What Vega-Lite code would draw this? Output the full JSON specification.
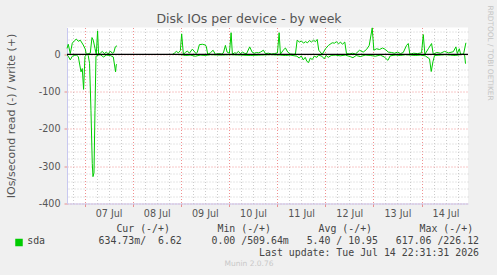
{
"$schema": "https://vega.github.io/schema/vega-lite/v6.json",
"autosize": "none",
"width": 401,
"height": 176,
"padding": {"left": 67, "top": 27.5, "right": 29, "bottom": 71.5},
"background": "#f0f0f0",
"config": {"view": {"stroke": null, "fill": "#ffffff"}, "axis": {"labelFont": "DejaVu Sans", "titleFont": "DejaVu Sans", "labelColor": "#555555", "titleColor": "#555555", "titleFontWeight": "normal"}},
"datasets": {"io": [
{"t":"2026-07-06T15:15","v":16,"d":"w","s":"w1"},
{"t":"2026-07-06T15:52","v":27,"d":"w","s":"w1"},
{"t":"2026-07-06T16:52","v":2,"d":"w","s":"w1"},
{"t":"2026-07-06T17:52","v":30,"d":"w","s":"w1"},
{"t":"2026-07-06T18:52","v":36,"d":"w","s":"w1"},
{"t":"2026-07-06T19:52","v":41,"d":"w","s":"w1"},
{"t":"2026-07-06T20:52","v":35,"d":"w","s":"w1"},
{"t":"2026-07-06T21:51","v":38,"d":"w","s":"w1"},
{"t":"2026-07-06T23:21","v":25,"d":"w","s":"w1"},
{"t":"2026-07-07T00:21","v":14,"d":"w","s":"w1"},
{"t":"2026-07-07T00:51","v":0,"d":"w","s":"w1"},
{"t":"2026-07-07T01:51","v":2,"d":"w","s":"w1"},
{"t":"2026-07-07T02:50","v":3,"d":"w","s":"w1"},
{"t":"2026-07-07T03:41","v":45,"d":"w","s":"w1"},
{"t":"2026-07-07T04:20","v":38,"d":"w","s":"w1"},
{"t":"2026-07-07T05:11","v":16,"d":"w","s":"w1"},
{"t":"2026-07-07T05:50","v":0,"d":"w","s":"w1"},
{"t":"2026-07-07T06:29","v":63,"d":"w","s":"w1"},
{"t":"2026-07-07T06:59","v":0,"d":"w","s":"w1"},
{"t":"2026-07-07T07:50","v":3,"d":"w","s":"w1"},
{"t":"2026-07-07T08:50","v":8,"d":"w","s":"w1"},
{"t":"2026-07-07T09:50","v":2,"d":"w","s":"w1"},
{"t":"2026-07-07T10:50","v":6,"d":"w","s":"w1"},
{"t":"2026-07-07T11:50","v":1,"d":"w","s":"w1"},
{"t":"2026-07-07T12:49","v":9,"d":"w","s":"w1"},
{"t":"2026-07-07T13:49","v":3,"d":"w","s":"w1"},
{"t":"2026-07-07T14:34","v":5,"d":"w","s":"w1"},
{"t":"2026-07-07T15:19","v":20,"d":"w","s":"w1"},
{"t":"2026-07-07T16:10","v":23,"d":"w","s":"w1"},
{"t":"2026-07-08T19:55","v":0,"d":"w","s":"w2"},
{"t":"2026-07-08T20:45","v":3,"d":"w","s":"w2"},
{"t":"2026-07-08T21:45","v":8,"d":"w","s":"w2"},
{"t":"2026-07-08T22:45","v":4,"d":"w","s":"w2"},
{"t":"2026-07-08T23:45","v":10,"d":"w","s":"w2"},
{"t":"2026-07-09T00:24","v":55,"d":"w","s":"w2"},
{"t":"2026-07-09T01:15","v":0,"d":"w","s":"w2"},
{"t":"2026-07-09T02:15","v":5,"d":"w","s":"w2"},
{"t":"2026-07-09T03:15","v":9,"d":"w","s":"w2"},
{"t":"2026-07-09T04:15","v":3,"d":"w","s":"w2"},
{"t":"2026-07-09T05:44","v":14,"d":"w","s":"w2"},
{"t":"2026-07-09T07:35","v":2,"d":"w","s":"w2"},
{"t":"2026-07-09T08:14","v":6,"d":"w","s":"w2"},
{"t":"2026-07-09T09:14","v":26,"d":"w","s":"w2"},
{"t":"2026-07-09T10:44","v":27,"d":"w","s":"w2"},
{"t":"2026-07-09T12:14","v":25,"d":"w","s":"w2"},
{"t":"2026-07-09T12:44","v":20,"d":"w","s":"w2"},
{"t":"2026-07-09T13:23","v":0,"d":"w","s":"w2"},
{"t":"2026-07-09T14:43","v":4,"d":"w","s":"w2"},
{"t":"2026-07-09T16:04","v":11,"d":"w","s":"w2"},
{"t":"2026-07-09T17:13","v":0,"d":"w","s":"w2"},
{"t":"2026-07-09T18:43","v":2,"d":"w","s":"w2"},
{"t":"2026-07-09T20:13","v":1,"d":"w","s":"w2"},
{"t":"2026-07-09T21:13","v":4,"d":"w","s":"w2"},
{"t":"2026-07-09T22:13","v":24,"d":"w","s":"w2"},
{"t":"2026-07-09T23:04","v":6,"d":"w","s":"w2"},
{"t":"2026-07-10T00:13","v":3,"d":"w","s":"w2"},
{"t":"2026-07-10T01:03","v":58,"d":"w","s":"w2"},
{"t":"2026-07-10T01:42","v":0,"d":"w","s":"w2"},
{"t":"2026-07-10T02:42","v":4,"d":"w","s":"w2"},
{"t":"2026-07-10T03:42","v":3,"d":"w","s":"w2"},
{"t":"2026-07-10T04:42","v":8,"d":"w","s":"w2"},
{"t":"2026-07-10T05:42","v":2,"d":"w","s":"w2"},
{"t":"2026-07-10T06:42","v":6,"d":"w","s":"w2"},
{"t":"2026-07-10T07:41","v":3,"d":"w","s":"w2"},
{"t":"2026-07-10T08:41","v":1,"d":"w","s":"w2"},
{"t":"2026-07-10T10:20","v":20,"d":"w","s":"w2"},
{"t":"2026-07-10T11:32","v":6,"d":"w","s":"w2"},
{"t":"2026-07-10T12:41","v":3,"d":"w","s":"w2"},
{"t":"2026-07-10T13:41","v":5,"d":"w","s":"w2"},
{"t":"2026-07-10T14:41","v":4,"d":"w","s":"w2"},
{"t":"2026-07-10T15:40","v":6,"d":"w","s":"w2"},
{"t":"2026-07-10T17:10","v":11,"d":"w","s":"w2"},
{"t":"2026-07-10T18:10","v":2,"d":"w","s":"w2"},
{"t":"2026-07-10T19:40","v":3,"d":"w","s":"w2"},
{"t":"2026-07-10T21:10","v":1,"d":"w","s":"w2"},
{"t":"2026-07-10T22:40","v":2,"d":"w","s":"w2"},
{"t":"2026-07-11T00:10","v":4,"d":"w","s":"w2"},
{"t":"2026-07-11T01:00","v":58,"d":"w","s":"w2"},
{"t":"2026-07-11T01:39","v":0,"d":"w","s":"w2"},
{"t":"2026-07-11T03:00","v":11,"d":"w","s":"w2"},
{"t":"2026-07-11T04:09","v":17,"d":"w","s":"w2"},
{"t":"2026-07-11T05:18","v":6,"d":"w","s":"w2"},
{"t":"2026-07-11T06:38","v":1,"d":"w","s":"w2"},
{"t":"2026-07-11T08:08","v":0,"d":"w","s":"w2"},
{"t":"2026-07-11T09:08","v":1,"d":"w","s":"w2"},
{"t":"2026-07-11T09:59","v":38,"d":"w","s":"w2"},
{"t":"2026-07-11T11:08","v":33,"d":"w","s":"w2"},
{"t":"2026-07-11T12:08","v":36,"d":"w","s":"w2"},
{"t":"2026-07-11T13:08","v":30,"d":"w","s":"w2"},
{"t":"2026-07-11T14:08","v":34,"d":"w","s":"w2"},
{"t":"2026-07-11T15:08","v":31,"d":"w","s":"w2"},
{"t":"2026-07-11T16:08","v":37,"d":"w","s":"w2"},
{"t":"2026-07-11T17:07","v":33,"d":"w","s":"w2"},
{"t":"2026-07-11T18:07","v":38,"d":"w","s":"w2"},
{"t":"2026-07-11T19:07","v":34,"d":"w","s":"w2"},
{"t":"2026-07-11T19:58","v":40,"d":"w","s":"w2"},
{"t":"2026-07-11T20:46","v":11,"d":"w","s":"w2"},
{"t":"2026-07-11T22:28","v":0,"d":"w","s":"w2"},
{"t":"2026-07-12T00:07","v":15,"d":"w","s":"w2"},
{"t":"2026-07-12T01:36","v":24,"d":"w","s":"w2"},
{"t":"2026-07-12T03:27","v":31,"d":"w","s":"w2"},
{"t":"2026-07-12T04:36","v":30,"d":"w","s":"w2"},
{"t":"2026-07-12T05:36","v":34,"d":"w","s":"w2"},
{"t":"2026-07-12T06:36","v":28,"d":"w","s":"w2"},
{"t":"2026-07-12T07:35","v":33,"d":"w","s":"w2"},
{"t":"2026-07-12T08:35","v":27,"d":"w","s":"w2"},
{"t":"2026-07-12T09:44","v":33,"d":"w","s":"w2"},
{"t":"2026-07-12T10:35","v":2,"d":"w","s":"w2"},
{"t":"2026-07-12T12:05","v":1,"d":"w","s":"w2"},
{"t":"2026-07-12T13:35","v":3,"d":"w","s":"w2"},
{"t":"2026-07-12T15:05","v":1,"d":"w","s":"w2"},
{"t":"2026-07-12T17:05","v":11,"d":"w","s":"w2"},
{"t":"2026-07-12T18:55","v":6,"d":"w","s":"w2"},
{"t":"2026-07-12T20:34","v":13,"d":"w","s":"w2"},
{"t":"2026-07-12T21:55","v":24,"d":"w","s":"w2"},
{"t":"2026-07-12T23:25","v":71,"d":"w","s":"w2"},
{"t":"2026-07-13T00:13","v":11,"d":"w","s":"w2"},
{"t":"2026-07-13T01:34","v":15,"d":"w","s":"w2"},
{"t":"2026-07-13T03:04","v":13,"d":"w","s":"w2"},
{"t":"2026-07-13T04:33","v":17,"d":"w","s":"w2"},
{"t":"2026-07-13T06:03","v":13,"d":"w","s":"w2"},
{"t":"2026-07-13T07:24","v":6,"d":"w","s":"w2"},
{"t":"2026-07-13T09:02","v":5,"d":"w","s":"w2"},
{"t":"2026-07-13T10:32","v":3,"d":"w","s":"w2"},
{"t":"2026-07-13T12:02","v":6,"d":"w","s":"w2"},
{"t":"2026-07-13T13:32","v":2,"d":"w","s":"w2"},
{"t":"2026-07-13T14:53","v":5,"d":"w","s":"w2"},
{"t":"2026-07-13T16:32","v":24,"d":"w","s":"w2"},
{"t":"2026-07-13T17:23","v":29,"d":"w","s":"w2"},
{"t":"2026-07-13T18:11","v":0,"d":"w","s":"w2"},
{"t":"2026-07-13T20:01","v":3,"d":"w","s":"w2"},
{"t":"2026-07-13T22:01","v":2,"d":"w","s":"w2"},
{"t":"2026-07-14T00:01","v":4,"d":"w","s":"w2"},
{"t":"2026-07-14T00:52","v":53,"d":"w","s":"w2"},
{"t":"2026-07-14T01:40","v":0,"d":"w","s":"w2"},
{"t":"2026-07-14T03:22","v":15,"d":"w","s":"w2"},
{"t":"2026-07-14T05:00","v":29,"d":"w","s":"w2"},
{"t":"2026-07-14T05:51","v":0,"d":"w","s":"w2"},
{"t":"2026-07-14T07:30","v":5,"d":"w","s":"w2"},
{"t":"2026-07-14T09:30","v":3,"d":"w","s":"w2"},
{"t":"2026-07-14T11:29","v":8,"d":"w","s":"w2"},
{"t":"2026-07-14T13:29","v":4,"d":"w","s":"w2"},
{"t":"2026-07-14T15:50","v":7,"d":"w","s":"w2"},
{"t":"2026-07-14T17:08","v":20,"d":"w","s":"w2"},
{"t":"2026-07-14T17:50","v":2,"d":"w","s":"w2"},
{"t":"2026-07-14T18:50","v":15,"d":"w","s":"w2"},
{"t":"2026-07-14T19:29","v":0,"d":"w","s":"w2"},
{"t":"2026-07-14T20:58","v":1,"d":"w","s":"w2"},
{"t":"2026-07-14T22:07","v":31,"d":"w","s":"w2"},
{"t":"2026-07-06T15:14","v":-2,"d":"r","s":"r1"},
{"t":"2026-07-06T15:52","v":-5,"d":"r","s":"r1"},
{"t":"2026-07-06T16:52","v":-15,"d":"r","s":"r1"},
{"t":"2026-07-06T17:52","v":-5,"d":"r","s":"r1"},
{"t":"2026-07-06T18:52","v":-3,"d":"r","s":"r1"},
{"t":"2026-07-06T19:52","v":-2,"d":"r","s":"r1"},
{"t":"2026-07-06T20:52","v":-6,"d":"r","s":"r1"},
{"t":"2026-07-06T22:13","v":-47,"d":"r","s":"r1"},
{"t":"2026-07-06T22:51","v":-38,"d":"r","s":"r1"},
{"t":"2026-07-06T23:30","v":-94,"d":"r","s":"r1"},
{"t":"2026-07-07T00:12","v":-5,"d":"r","s":"r1"},
{"t":"2026-07-07T01:12","v":0,"d":"r","s":"r1"},
{"t":"2026-07-07T01:50","v":-3,"d":"r","s":"r1"},
{"t":"2026-07-07T02:29","v":-25,"d":"r","s":"r1"},
{"t":"2026-07-07T03:11","v":-150,"d":"r","s":"r1"},
{"t":"2026-07-07T03:50","v":-293,"d":"r","s":"r1"},
{"t":"2026-07-07T04:11","v":-328,"d":"r","s":"r1"},
{"t":"2026-07-07T04:41","v":-318,"d":"r","s":"r1"},
{"t":"2026-07-07T05:11","v":-150,"d":"r","s":"r1"},
{"t":"2026-07-07T05:41","v":-5,"d":"r","s":"r1"},
{"t":"2026-07-07T06:50","v":-2,"d":"r","s":"r1"},
{"t":"2026-07-07T07:50","v":-1,"d":"r","s":"r1"},
{"t":"2026-07-07T09:28","v":-7,"d":"r","s":"r1"},
{"t":"2026-07-07T10:49","v":-2,"d":"r","s":"r1"},
{"t":"2026-07-07T12:49","v":-3,"d":"r","s":"r1"},
{"t":"2026-07-07T14:19","v":-7,"d":"r","s":"r1"},
{"t":"2026-07-07T15:27","v":-47,"d":"r","s":"r1"},
{"t":"2026-07-07T15:48","v":-28,"d":"r","s":"r1"},
{"t":"2026-07-07T16:09","v":-26,"d":"r","s":"r1"},
{"t":"2026-07-08T19:52","v":0,"d":"r","s":"r2"},
{"t":"2026-07-09T00:21","v":-1,"d":"r","s":"r2"},
{"t":"2026-07-09T02:12","v":-3,"d":"r","s":"r2"},
{"t":"2026-07-09T04:41","v":-2,"d":"r","s":"r2"},
{"t":"2026-07-09T07:11","v":-5,"d":"r","s":"r2"},
{"t":"2026-07-09T09:41","v":-2,"d":"r","s":"r2"},
{"t":"2026-07-09T12:10","v":-3,"d":"r","s":"r2"},
{"t":"2026-07-09T14:40","v":-1,"d":"r","s":"r2"},
{"t":"2026-07-09T19:39","v":-2,"d":"r","s":"r2"},
{"t":"2026-07-10T00:38","v":-1,"d":"r","s":"r2"},
{"t":"2026-07-10T05:37","v":-2,"d":"r","s":"r2"},
{"t":"2026-07-10T10:36","v":-3,"d":"r","s":"r2"},
{"t":"2026-07-10T15:35","v":-2,"d":"r","s":"r2"},
{"t":"2026-07-10T20:34","v":-1,"d":"r","s":"r2"},
{"t":"2026-07-11T01:34","v":-2,"d":"r","s":"r2"},
{"t":"2026-07-11T04:03","v":-3,"d":"r","s":"r2"},
{"t":"2026-07-11T06:32","v":-2,"d":"r","s":"r2"},
{"t":"2026-07-11T09:53","v":-5,"d":"r","s":"r2"},
{"t":"2026-07-11T11:02","v":-10,"d":"r","s":"r2"},
{"t":"2026-07-11T12:02","v":-4,"d":"r","s":"r2"},
{"t":"2026-07-11T13:01","v":-15,"d":"r","s":"r2"},
{"t":"2026-07-11T14:01","v":-8,"d":"r","s":"r2"},
{"t":"2026-07-11T14:52","v":-19,"d":"r","s":"r2"},
{"t":"2026-07-11T15:40","v":-22,"d":"r","s":"r2"},
{"t":"2026-07-11T16:31","v":-10,"d":"r","s":"r2"},
{"t":"2026-07-11T17:31","v":-14,"d":"r","s":"r2"},
{"t":"2026-07-11T18:31","v":-5,"d":"r","s":"r2"},
{"t":"2026-07-11T19:51","v":-8,"d":"r","s":"r2"},
{"t":"2026-07-11T20:39","v":-2,"d":"r","s":"r2"},
{"t":"2026-07-11T22:20","v":-5,"d":"r","s":"r2"},
{"t":"2026-07-11T23:29","v":-12,"d":"r","s":"r2"},
{"t":"2026-07-12T00:29","v":-3,"d":"r","s":"r2"},
{"t":"2026-07-12T01:29","v":-8,"d":"r","s":"r2"},
{"t":"2026-07-12T02:59","v":-3,"d":"r","s":"r2"},
{"t":"2026-07-12T04:59","v":-2,"d":"r","s":"r2"},
{"t":"2026-07-12T07:28","v":-4,"d":"r","s":"r2"},
{"t":"2026-07-12T09:58","v":-2,"d":"r","s":"r2"},
{"t":"2026-07-12T12:27","v":-6,"d":"r","s":"r2"},
{"t":"2026-07-12T13:48","v":-9,"d":"r","s":"r2"},
{"t":"2026-07-12T15:26","v":-3,"d":"r","s":"r2"},
{"t":"2026-07-12T17:26","v":-6,"d":"r","s":"r2"},
{"t":"2026-07-12T19:56","v":-2,"d":"r","s":"r2"},
{"t":"2026-07-12T22:25","v":-3,"d":"r","s":"r2"},
{"t":"2026-07-13T00:55","v":-5,"d":"r","s":"r2"},
{"t":"2026-07-13T03:25","v":-2,"d":"r","s":"r2"},
{"t":"2026-07-13T05:24","v":-7,"d":"r","s":"r2"},
{"t":"2026-07-13T07:15","v":-16,"d":"r","s":"r2"},
{"t":"2026-07-13T08:23","v":-4,"d":"r","s":"r2"},
{"t":"2026-07-13T10:53","v":-2,"d":"r","s":"r2"},
{"t":"2026-07-13T13:23","v":-3,"d":"r","s":"r2"},
{"t":"2026-07-13T15:52","v":-1,"d":"r","s":"r2"},
{"t":"2026-07-13T18:22","v":-2,"d":"r","s":"r2"},
{"t":"2026-07-13T20:52","v":-3,"d":"r","s":"r2"},
{"t":"2026-07-13T23:21","v":-2,"d":"r","s":"r2"},
{"t":"2026-07-14T01:50","v":-4,"d":"r","s":"r2"},
{"t":"2026-07-14T03:59","v":-12,"d":"r","s":"r2"},
{"t":"2026-07-14T04:50","v":-46,"d":"r","s":"r2"},
{"t":"2026-07-14T05:41","v":-20,"d":"r","s":"r2"},
{"t":"2026-07-14T06:29","v":-3,"d":"r","s":"r2"},
{"t":"2026-07-14T09:19","v":-2,"d":"r","s":"r2"},
{"t":"2026-07-14T11:49","v":-1,"d":"r","s":"r2"},
{"t":"2026-07-14T14:18","v":-2,"d":"r","s":"r2"},
{"t":"2026-07-14T16:48","v":-3,"d":"r","s":"r2"},
{"t":"2026-07-14T19:17","v":-1,"d":"r","s":"r2"},
{"t":"2026-07-14T21:26","v":0,"d":"r","s":"r2"},
{"t":"2026-07-14T21:56","v":-25,"d":"r","s":"r2"}
]},
"data": {"name": "io"},
"layer": [
{
"transform": [{"filter": {"field": "d", "equal": "w"}}],
"mark": {"type": "line", "strokeWidth": 1},
"encoding": {
"x": {"field": "t", "type": "temporal",
"scale": {"domain": [{"year": 2026, "month": 7, "date": 6, "hours": 15, "minutes": 14}, {"year": 2026, "month": 7, "date": 14, "hours": 23, "minutes": 10}]},
"axis": {"orient": "bottom",
"values": [{"year":2026,"month":7,"date":7},{"year":2026,"month":7,"date":8},{"year":2026,"month":7,"date":9},{"year":2026,"month":7,"date":10},{"year":2026,"month":7,"date":11},{"year":2026,"month":7,"date":12},{"year":2026,"month":7,"date":13},{"year":2026,"month":7,"date":14}],
"labelExpr": "timeFormat(datum.value, '%d %b')", "labelOffset": 24, "labelPadding": 2, "labelFontSize": 9.6, "labelFlush": false, "labelOverlap": false, "labelBound": false,
"ticks": true, "tickColor": "#e89090", "tickSize": 3,
"grid": true, "gridColor": "#f09090", "gridDash": [1, 2],
"domain": true, "domainColor": "#c8c8f0",
"title": ["\u200b\u00a0\u00a0\u00a0\u00a0\u00a0\u00a0\u00a0\u00a0\u00a0\u00a0\u00a0\u00a0\u00a0\u00a0\u00a0Cur\u00a0(-/+)\u00a0\u00a0\u00a0\u00a0\u00a0\u00a0\u00a0\u00a0Min\u00a0(-/+)\u00a0\u00a0\u00a0\u00a0\u00a0\u00a0\u00a0\u00a0Avg\u00a0(-/+)\u00a0\u00a0\u00a0\u00a0\u00a0\u00a0\u00a0\u00a0Max\u00a0(-/+)",
"sda\u00a0\u00a0\u00a0\u00a0\u00a0\u00a0\u00a0\u00a0\u00a0634.73m/\u00a0\u00a06.62\u00a0\u00a0\u00a0\u00a0\u00a00.00\u00a0/509.64m\u00a0\u00a0\u00a05.40\u00a0/\u00a010.95\u00a0\u00a0\u00a0617.06\u00a0/226.12",
"\u200b\u00a0\u00a0\u00a0\u00a0\u00a0\u00a0\u00a0\u00a0\u00a0\u00a0\u00a0\u00a0\u00a0\u00a0\u00a0\u00a0\u00a0\u00a0\u00a0\u00a0\u00a0\u00a0\u00a0\u00a0\u00a0\u00a0\u00a0\u00a0\u00a0\u00a0\u00a0\u00a0\u00a0\u00a0\u00a0\u00a0\u00a0\u00a0\u00a0Last\u00a0update:\u00a0Tue\u00a0Jul\u00a014\u00a022:31:31\u00a02026"],
"titleFont": "DejaVu Sans Mono", "titleFontSize": 9.9, "titleColor": "#444444", "titleAlign": "left", "titleBaseline": "top", "titleX": -40.3, "titleY": 19.5, "titleLineHeight": 12.2}},
"y": {"field": "v", "type": "quantitative",
"scale": {"domain": [-400, 72], "nice": false, "zero": false},
"axis": {"orient": "left", "values": [0, -100, -200, -300, -400], "labelExpr": "'' + datum.value", "labelFontSize": 9.6, "labelPadding": 4, "labelFlush": false,
"ticks": true, "tickColor": "#e89090", "tickSize": 3,
"grid": true, "gridColor": "#f09090", "gridDash": [1, 2],
"domain": true, "domainColor": "#c8c8f0",
"title": "IOs/second read (-) / write (+)", "titleFontSize": 11, "titleAngle": -90, "titleX": -56, "titleY": 88, "titleAlign": "center", "titleBaseline": "middle"}},
"detail": {"field": "s"},
"color": {"datum": "sda", "scale": {"range": ["#00cc00"]},
"legend": {"orient": "none", "legendX": -53, "legendY": 210, "title": null, "labelExpr": "''", "symbolType": "square", "symbolSize": 36, "padding": 0,
"encode": {"symbols": {"update": {"fill": {"value": "#00cc00"}, "stroke": {"value": "transparent"}, "shape": {"value": "square"}}}}}}
}
},
{
"transform": [{"filter": {"field": "d", "equal": "r"}}],
"mark": {"type": "line", "strokeWidth": 1, "color": "#00cc00"},
"encoding": {
"x": {"field": "t", "type": "temporal",
"axis": {"orient": "top",
"values": [{"year":2026,"month":7,"date":6,"hours":18},
{"year":2026,"month":7,"date":7,"hours":6},{"year":2026,"month":7,"date":7,"hours":12},{"year":2026,"month":7,"date":7,"hours":18},
{"year":2026,"month":7,"date":8,"hours":6},{"year":2026,"month":7,"date":8,"hours":12},{"year":2026,"month":7,"date":8,"hours":18},
{"year":2026,"month":7,"date":9,"hours":6},{"year":2026,"month":7,"date":9,"hours":12},{"year":2026,"month":7,"date":9,"hours":18},
{"year":2026,"month":7,"date":10,"hours":6},{"year":2026,"month":7,"date":10,"hours":12},{"year":2026,"month":7,"date":10,"hours":18},
{"year":2026,"month":7,"date":11,"hours":6},{"year":2026,"month":7,"date":11,"hours":12},{"year":2026,"month":7,"date":11,"hours":18},
{"year":2026,"month":7,"date":12,"hours":6},{"year":2026,"month":7,"date":12,"hours":12},{"year":2026,"month":7,"date":12,"hours":18},
{"year":2026,"month":7,"date":13,"hours":6},{"year":2026,"month":7,"date":13,"hours":12},{"year":2026,"month":7,"date":13,"hours":18},
{"year":2026,"month":7,"date":14,"hours":6},{"year":2026,"month":7,"date":14,"hours":12},{"year":2026,"month":7,"date":14,"hours":18}],
"labels": false, "ticks": false, "domain": false,
"grid": true, "gridColor": "#cccccc", "gridDash": [1, 2],
"title": "Disk IOs per device - by week", "titleFontSize": 12.5, "titleX": 181.5, "titleY": -5, "titleAlign": "center", "titleBaseline": "alphabetic", "titleColor": "#555555"}},
"y": {"field": "v", "type": "quantitative",
"axis": {"orient": "right", "values": [60, 40, 20, -20, -40, -60, -80, -120, -140, -160, -180, -220, -240, -260, -280, -320, -340, -360, -380],
"labels": false, "ticks": false, "domain": false,
"grid": true, "gridColor": "#cccccc", "gridDash": [1, 2],
"title": "RRDTOOL / TOBI OETIKER", "titleFontSize": 7.4, "titleColor": "#c4c4c4", "titleAngle": 90, "titleX": 21.5, "titleY": -22.5, "titleAlign": "left", "titleBaseline": "middle"}},
"detail": {"field": "s"}
}
},
{
"data": {"values": [{}]},
"mark": {"type": "rule", "color": "#000000", "strokeWidth": 1.2},
"encoding": {
"y": {"datum": 0, "type": "quantitative",
"axis": {"orient": "left", "labels": false, "ticks": false, "domain": false, "grid": false,
"title": "Munin 2.0.76", "titleAngle": 0, "titleFontSize": 7.5, "titleColor": "#c8c8c8", "titleX": 181.5, "titleY": 235.8, "titleAlign": "center", "titleBaseline": "middle"}}
}
}
],
"resolve": {"axis": {"x": "independent", "y": "independent"}}
}
